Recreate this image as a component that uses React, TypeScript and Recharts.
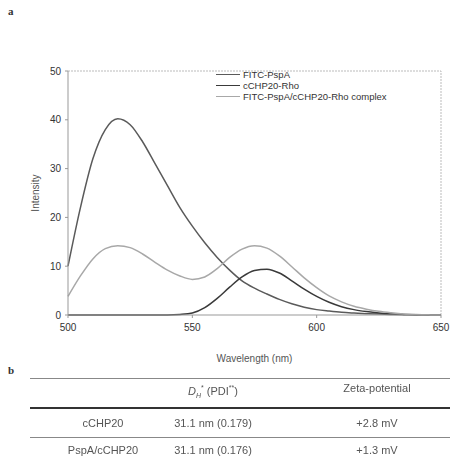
import { Legend, Line, LineChart, ReferenceLine, XAxis, YAxis } from "recharts";

const wavelengths = [500, 505, 510, 515, 520, 525, 530, 535, 540, 545, 550, 555, 560, 565, 570,
  575, 580, 585, 590, 595, 600, 605, 610, 615, 620, 625, 630, 635, 640, 645, 650];
const fitcPspA = [10, 22, 32, 38, 40.2, 39, 35.5, 31, 26.5, 22, 18.2, 14.8, 11.8, 9.2, 7,
  5.5, 4.3, 3.2, 2.3, 1.6, 1.1, 0.8, 0.55, 0.4, 0.28, 0.18, 0.1, 0.05, 0.02, 0, 0];
const cchpRho = [0, 0, 0, 0, 0, 0, 0, 0, 0, 0.1, 0.4, 1.5, 3.4, 5.7, 7.8,
  9.1, 9.4, 8.6, 7, 5.3, 3.8, 2.6, 1.7, 1.1, 0.7, 0.4, 0.22, 0.12, 0.05, 0.02, 0];
const complexVals = [3.8, 8, 11.5, 13.6, 14.2, 13.8, 12.5, 10.8, 9.2, 8, 7.3, 7.8, 9.5, 11.8, 13.5,
  14.2, 13.7, 12.1, 9.9, 7.6, 5.6, 3.9, 2.7, 1.8, 1.2, 0.75, 0.45, 0.22, 0.1, 0.03, 0];
const xTicks = [500, 550, 600, 650];
const yTicks = [0, 10, 20, 30, 40, 50];

const series = [
  { key: "fitc", name: "FITC-PspA", color: "#5a5a5a" },
  { key: "rho", name: "cCHP20-Rho", color: "#3a3a3a" },
  { key: "complex", name: "FITC-PspA/cCHP20-Rho complex", color: "#a8a8a8" },
];

const tableRows = [
  { name: "cCHP20", dh: "31.1 nm (0.179)", zeta: "+2.8 mV" },
  { name: "PspA/cCHP20", dh: "31.1 nm (0.176)", zeta: "+1.3 mV" },
];

const FONT = '"Liberation Sans", Arial, sans-serif';
const TICK = { fontFamily: FONT, fontSize: 10, fill: "#333" };

const data = wavelengths.map((w, i) => ({
  w, fitc: fitcPspA[i], rho: cchpRho[i], complex: complexVals[i],
}));

function LegendBox() {
  return (
    <div style={{ fontFamily: FONT, fontSize: 9.5, color: "#333", lineHeight: "11px" }}>
      {series.map((s) => (
        <div key={s.key} style={{ display: "flex", alignItems: "center" }}>
          <span style={{ display: "inline-block", width: 24, height: 0,
                         borderTop: `1.5px solid ${s.color}`, marginRight: 3 }} />
          {s.name}
        </div>
      ))}
    </div>
  );
}

const cell = (x: number, y: number, text: React.ReactNode) => (
  <div style={{ position: "absolute", left: x - 100, top: y - 7, width: 200, textAlign: "center",
                fontFamily: FONT, fontSize: 11, color: "#555", lineHeight: "14px" }}>{text}</div>
);

export default function App() {
  return (
    <div style={{ position: "fixed", left: 0, top: 0, width: 450, height: 458, background: "#fff" }}>
      <div style={{ position: "absolute", left: 8, top: 5, fontFamily: "serif", fontWeight: "bold",
                    fontSize: 11, color: "#333" }}>a</div>
      <div style={{ position: "absolute", left: 0, top: 0 }}>
        <LineChart width={450} height={365} data={data}
                   margin={{ top: 38, right: 9, bottom: 0, left: 0 }}>
          <XAxis dataKey="w" type="number" domain={[500, 650]} ticks={xTicks} height={50}
                 stroke="#999" tick={TICK} tickSize={3} tickMargin={6}
                 label={{ value: "Wavelength (nm)", position: "insideBottom", offset: 3,
                          style: { fontFamily: FONT, fontSize: 10, fill: "#555" } }} />
          <YAxis type="number" domain={[0, 50]} ticks={yTicks} width={68}
                 stroke="#999" tick={TICK} tickSize={3} tickMargin={4}
                 label={{ value: "Intensity", angle: -90, position: "insideLeft", offset: 35,
                          style: { fontFamily: FONT, fontSize: 10, fill: "#555", textAnchor: "middle" } }} />
          <ReferenceLine y={50} stroke="#bbb" strokeDasharray="2 1" />
          <ReferenceLine x={650} stroke="#bbb" strokeDasharray="2 1" />
          <Legend content={<LegendBox />} verticalAlign="top" align="left"
                  wrapperStyle={{ top: 69, left: 216, width: 230 }} />
          {series.map((s) => (
            <Line key={s.key} type="monotone" dataKey={s.key} name={s.name} stroke={s.color}
                  strokeWidth={1.5} dot={false} isAnimationActive={false} />
          ))}
        </LineChart>
      </div>

      <div style={{ position: "absolute", left: 8, top: 364, fontFamily: "serif", fontWeight: "bold",
                    fontSize: 11, color: "#333" }}>b</div>
      <div style={{ position: "absolute", left: 30, top: 378, width: 420, borderTop: "1px solid #888" }} />
      {cell(213, 388, <span><i>D</i><sub style={{ fontSize: 7 }}><i>H</i></sub><sup style={{ fontSize: 7 }}>*</sup> (PDI<sup style={{ fontSize: 7 }}>**</sup>)</span>)}
      {cell(377, 388, "Zeta-potential")}
      <div style={{ position: "absolute", left: 30, top: 407, width: 420, borderTop: "2px solid #333" }} />
      {tableRows.map((r, i) => (
        <div key={r.name}>
          {cell(103, 423 + i * 27, r.name)}
          {cell(213, 423 + i * 27, r.dh)}
          {cell(377, 423 + i * 27, r.zeta)}
        </div>
      ))}
      <div style={{ position: "absolute", left: 30, top: 437, width: 420, borderTop: "1px solid #888" }} />
    </div>
  );
}
